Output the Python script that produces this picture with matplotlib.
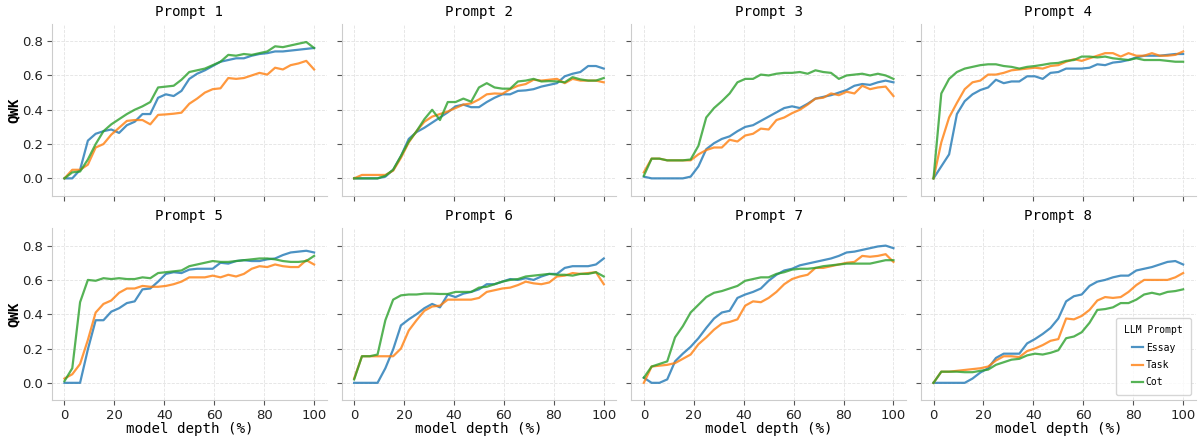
import numpy as np
import matplotlib
matplotlib.use("Agg")
import matplotlib.pyplot as plt

# layer index 0..32 -> model depth in percent
layers = np.arange(33)
depth = layers / 32 * 100

prompt_names = ['Prompt 1', 'Prompt 2', 'Prompt 3', 'Prompt 4',
                'Prompt 5', 'Prompt 6', 'Prompt 7', 'Prompt 8']
series_names = ['Essay', 'Task', 'Cot']

# Prompt 1
p1_essay = [0.0, 0.0, 0.05, 0.22, 0.26, 0.275, 0.285, 0.265, 0.31, 0.33, 0.375, 0.375, 0.47, 0.49, 0.48, 0.51,
            0.58, 0.61, 0.63, 0.655, 0.68, 0.69, 0.70, 0.70, 0.715, 0.725, 0.73, 0.74, 0.74, 0.745, 0.75, 0.755, 0.76]
p1_task = [0.0, 0.05, 0.05, 0.08, 0.18, 0.2, 0.255, 0.295, 0.335, 0.34, 0.34, 0.315, 0.37, 0.373, 0.377, 0.383,
           0.435, 0.465, 0.5, 0.52, 0.525, 0.585, 0.58, 0.585, 0.6, 0.615, 0.605, 0.645, 0.635, 0.66, 0.67, 0.685, 0.635]
p1_cot = [0.0, 0.035, 0.04, 0.11, 0.2, 0.275, 0.315, 0.345, 0.375, 0.4, 0.42, 0.445, 0.53, 0.535, 0.54, 0.575,
          0.62, 0.63, 0.64, 0.66, 0.68, 0.72, 0.715, 0.725, 0.72, 0.73, 0.74, 0.77, 0.765, 0.775, 0.785, 0.795, 0.76]

# Prompt 2
p2_essay = [0.0, 0.0, 0.0, 0.0, 0.01, 0.05, 0.13, 0.23, 0.27, 0.295, 0.325, 0.355, 0.385, 0.42, 0.43, 0.415,
            0.415, 0.445, 0.47, 0.49, 0.49, 0.51, 0.513, 0.52, 0.535, 0.545, 0.555, 0.595, 0.61, 0.62, 0.655, 0.655, 0.64]
p2_task = [0.0, 0.02, 0.02, 0.02, 0.02, 0.045, 0.12, 0.21, 0.275, 0.33, 0.36, 0.375, 0.39, 0.41, 0.43, 0.437,
           0.46, 0.49, 0.495, 0.493, 0.52, 0.54, 0.55, 0.575, 0.57, 0.575, 0.58, 0.555, 0.58, 0.57, 0.57, 0.57, 0.56]
p2_cot = [0.0, 0.0, 0.0, 0.0, 0.015, 0.05, 0.13, 0.215, 0.275, 0.345, 0.40, 0.34, 0.445, 0.445, 0.465, 0.447,
          0.53, 0.555, 0.53, 0.523, 0.523, 0.565, 0.57, 0.58, 0.565, 0.567, 0.565, 0.56, 0.59, 0.577, 0.57, 0.57, 0.585]

# Prompt 3
p3_essay = [0.01, 0.0, 0.0, 0.0, 0.0, 0.0, 0.01, 0.07, 0.17, 0.205, 0.23, 0.245, 0.275, 0.30, 0.31, 0.335,
            0.36, 0.385, 0.41, 0.42, 0.41, 0.435, 0.465, 0.475, 0.485, 0.5, 0.515, 0.54, 0.55, 0.545, 0.56, 0.57, 0.56]
p3_task = [0.035, 0.115, 0.115, 0.105, 0.105, 0.105, 0.105, 0.14, 0.165, 0.18, 0.18, 0.225, 0.215, 0.25, 0.26, 0.29,
           0.285, 0.34, 0.355, 0.38, 0.40, 0.43, 0.465, 0.47, 0.495, 0.485, 0.505, 0.495, 0.54, 0.52, 0.53, 0.535, 0.48]
p3_cot = [0.015, 0.115, 0.115, 0.105, 0.105, 0.105, 0.11, 0.19, 0.355, 0.41, 0.45, 0.495, 0.56, 0.58, 0.58, 0.605,
          0.6, 0.61, 0.615, 0.615, 0.62, 0.61, 0.63, 0.62, 0.615, 0.58, 0.6, 0.605, 0.61, 0.6, 0.61, 0.6, 0.58]

# Prompt 4
p4_essay = [0.0, 0.07, 0.14, 0.375, 0.45, 0.49, 0.515, 0.53, 0.575, 0.555, 0.565, 0.565, 0.595, 0.595, 0.58, 0.615,
            0.62, 0.64, 0.64, 0.64, 0.645, 0.665, 0.66, 0.675, 0.68, 0.69, 0.705, 0.715, 0.715, 0.715, 0.72, 0.725, 0.725]
p4_task = [0.0, 0.21, 0.355, 0.44, 0.52, 0.56, 0.57, 0.605, 0.605, 0.615, 0.63, 0.635, 0.64, 0.645, 0.64, 0.655,
           0.66, 0.68, 0.695, 0.685, 0.70, 0.715, 0.73, 0.73, 0.71, 0.73, 0.715, 0.715, 0.73, 0.715, 0.715, 0.72, 0.74]
p4_cot = [0.0, 0.495, 0.58, 0.62, 0.64, 0.65, 0.66, 0.665, 0.665, 0.655, 0.65, 0.64, 0.65, 0.655, 0.662, 0.67,
          0.673, 0.685, 0.69, 0.71, 0.71, 0.705, 0.71, 0.70, 0.695, 0.69, 0.70, 0.69, 0.69, 0.69, 0.685, 0.68, 0.68]

# Prompt 5
p5_essay = [0.0, 0.0, 0.0, 0.195, 0.365, 0.365, 0.415, 0.435, 0.465, 0.475, 0.545, 0.55, 0.59, 0.635, 0.645, 0.64,
            0.66, 0.665, 0.665, 0.665, 0.70, 0.695, 0.71, 0.715, 0.71, 0.71, 0.72, 0.725, 0.745, 0.76, 0.765, 0.77, 0.76]
p5_task = [0.025, 0.05, 0.11, 0.25, 0.41, 0.46, 0.48, 0.525, 0.55, 0.55, 0.565, 0.56, 0.56, 0.565, 0.575, 0.59,
           0.615, 0.615, 0.615, 0.625, 0.615, 0.63, 0.62, 0.635, 0.665, 0.68, 0.675, 0.69, 0.68, 0.675, 0.675, 0.715, 0.69]
p5_cot = [0.01, 0.085, 0.47, 0.6, 0.595, 0.61, 0.605, 0.61, 0.605, 0.605, 0.615, 0.61, 0.64, 0.645, 0.65, 0.655,
          0.68, 0.69, 0.70, 0.71, 0.705, 0.705, 0.71, 0.715, 0.72, 0.725, 0.725, 0.72, 0.71, 0.705, 0.705, 0.71, 0.74]

# Prompt 6
p6_essay = [0.0, 0.0, 0.0, 0.0, 0.085, 0.195, 0.335, 0.37, 0.40, 0.435, 0.46, 0.44, 0.515, 0.50, 0.52, 0.53,
            0.545, 0.575, 0.575, 0.59, 0.605, 0.60, 0.61, 0.60, 0.62, 0.635, 0.635, 0.67, 0.68, 0.68, 0.68, 0.69, 0.725]
p6_task = [0.025, 0.155, 0.155, 0.155, 0.155, 0.155, 0.2, 0.305, 0.365, 0.42, 0.445, 0.45, 0.485, 0.485, 0.485, 0.485,
           0.495, 0.53, 0.54, 0.55, 0.555, 0.57, 0.59, 0.58, 0.575, 0.585, 0.62, 0.625, 0.64, 0.635, 0.64, 0.645, 0.575]
p6_cot = [0.02, 0.155, 0.155, 0.165, 0.365, 0.485, 0.51, 0.515, 0.515, 0.52, 0.52, 0.518, 0.518, 0.53, 0.53, 0.53,
          0.555, 0.56, 0.575, 0.59, 0.60, 0.605, 0.62, 0.625, 0.63, 0.635, 0.63, 0.63, 0.625, 0.635, 0.635, 0.645, 0.62]

# Prompt 7
p7_essay = [0.03, 0.0, 0.0, 0.02, 0.125, 0.17, 0.21, 0.26, 0.32, 0.375, 0.41, 0.42, 0.495, 0.515, 0.53, 0.55,
            0.595, 0.63, 0.655, 0.665, 0.685, 0.695, 0.705, 0.715, 0.725, 0.74, 0.76, 0.765, 0.775, 0.785, 0.795, 0.80, 0.785]
p7_task = [0.0, 0.095, 0.10, 0.105, 0.115, 0.14, 0.165, 0.225, 0.265, 0.31, 0.345, 0.355, 0.37, 0.45, 0.475, 0.47,
           0.495, 0.53, 0.575, 0.605, 0.62, 0.63, 0.67, 0.67, 0.68, 0.69, 0.70, 0.705, 0.74, 0.735, 0.74, 0.75, 0.705]
p7_cot = [0.03, 0.095, 0.11, 0.125, 0.265, 0.33, 0.41, 0.455, 0.50, 0.525, 0.535, 0.55, 0.565, 0.595, 0.605, 0.615,
          0.615, 0.635, 0.645, 0.66, 0.665, 0.665, 0.67, 0.68, 0.685, 0.69, 0.695, 0.695, 0.695, 0.695, 0.705, 0.715, 0.715]

# Prompt 8
p8_essay = [0.0, 0.0, 0.0, 0.0, 0.0, 0.025, 0.06, 0.085, 0.145, 0.17, 0.17, 0.17, 0.23, 0.255, 0.285, 0.32,
            0.375, 0.475, 0.505, 0.515, 0.565, 0.59, 0.60, 0.615, 0.625, 0.625, 0.655, 0.665, 0.675, 0.69, 0.705, 0.71, 0.69]
p8_task = [0.0, 0.065, 0.065, 0.07, 0.075, 0.08, 0.085, 0.095, 0.13, 0.155, 0.155, 0.15, 0.185, 0.2, 0.22, 0.245,
           0.255, 0.375, 0.37, 0.39, 0.425, 0.48, 0.5, 0.495, 0.5, 0.53, 0.57, 0.60, 0.60, 0.60, 0.60, 0.615, 0.64]
p8_cot = [0.0, 0.065, 0.065, 0.065, 0.062, 0.062, 0.07, 0.077, 0.105, 0.12, 0.135, 0.14, 0.16, 0.17, 0.165, 0.175,
          0.19, 0.26, 0.27, 0.295, 0.35, 0.425, 0.43, 0.44, 0.465, 0.465, 0.485, 0.515, 0.525, 0.515, 0.53, 0.535, 0.545]

all_data = [
    (p1_essay, p1_task, p1_cot),
    (p2_essay, p2_task, p2_cot),
    (p3_essay, p3_task, p3_cot),
    (p4_essay, p4_task, p4_cot),
    (p5_essay, p5_task, p5_cot),
    (p6_essay, p6_task, p6_cot),
    (p7_essay, p7_task, p7_cot),
    (p8_essay, p8_task, p8_cot),
]

colors = ['#1f77b4', '#ff7f0e', '#2ca02c']
mono = 'DejaVu Sans Mono'

fig, axes = plt.subplots(2, 4, figsize=(11.98, 4.41), dpi=100, sharex=True, sharey=True)
fig.subplots_adjust(left=0.0434, right=0.998, top=0.9456, bottom=0.093, wspace=0.055, hspace=0.192)

for i, ax in enumerate(axes.flat):
    for vals, name, c in zip(all_data[i], series_names, colors):
        ax.plot(depth, vals, color=c, lw=1.6, alpha=0.8, label=name)
    ax.set_title(prompt_names[i], fontsize=10.2, family=mono)
    ax.grid(True, ls='--', lw=0.6, color='#e3e3e3')
    ax.set_axisbelow(True)
    for s in ['top', 'right']:
        ax.spines[s].set_visible(False)
    for s in ['left', 'bottom']:
        ax.spines[s].set_color('#cccccc')
    ax.tick_params(labelsize=9.5, length=3.5, width=0.8, color='#555555', labelcolor='#222222', pad=3)

axes[0, 0].set_ylim(-0.1, 0.9)
axes[0, 0].set_yticks([0.0, 0.2, 0.4, 0.6, 0.8])
axes[0, 0].set_xticks([0, 20, 40, 60, 80, 100])

for ax in axes[:, 0]:
    ax.set_ylabel('QWK', fontsize=10.2, family=mono, fontweight='bold', labelpad=1)
for ax in axes[1, :]:
    ax.set_xlabel('model depth (%)', fontsize=10.2, family=mono, labelpad=0)

leg = axes[1, 3].legend(title='LLM Prompt', loc='lower right', prop={'family': mono, 'size': 7},
                        handlelength=1.1, handletextpad=0.3, borderpad=0.8, labelspacing=0.75,
                        frameon=True, edgecolor='#cccccc')
leg.get_title().set_family(mono)
leg.get_title().set_fontsize(7)

fig.savefig('out.png', dpi=100)
